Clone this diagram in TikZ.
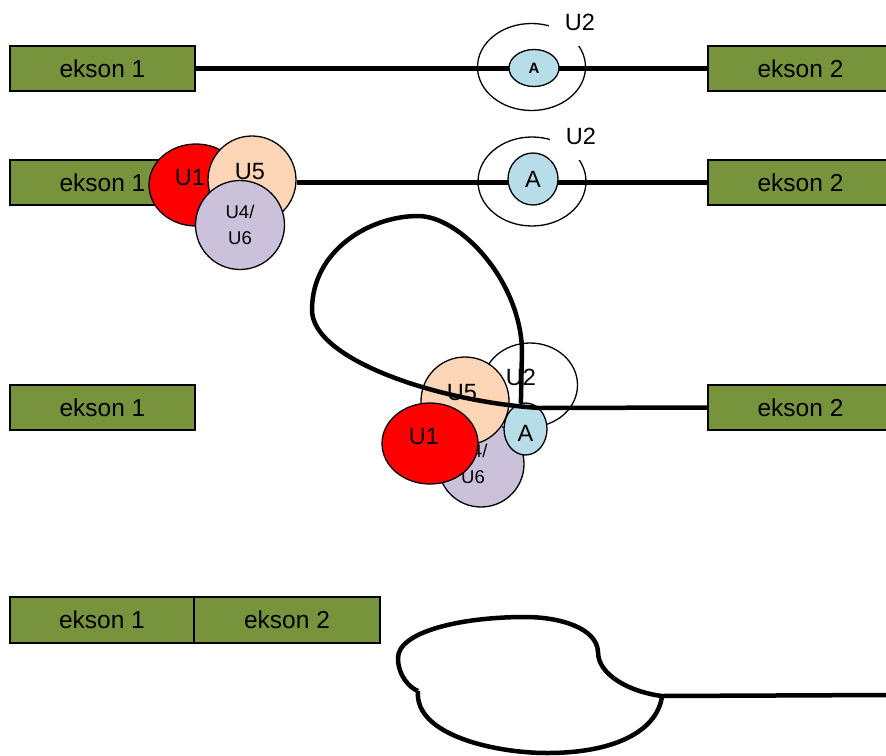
\documentclass[tikz,border=0pt]{standalone}
\usepackage{fontspec}
\setmainfont{Liberation Sans}
\usetikzlibrary{shapes.geometric}

\definecolor{eksgreen}{HTML}{77933C}
\definecolor{snred}{HTML}{FF0000}
\definecolor{snpeach}{HTML}{FBD5B5}
\definecolor{snlilac}{HTML}{CCC1DA}
\definecolor{snblue}{HTML}{B7DDE8}

\begin{document}
\begin{tikzpicture}[x=1pt,y=-1pt,
  ekson/.style={draw=black,fill=eksgreen,line width=1.6pt,minimum width=185pt,minimum height=45pt,inner sep=0pt,font=\fontsize{24.5}{28}\selectfont},
  blob/.style={ellipse,draw=black,line width=1.3pt,inner sep=0pt,font=\fontsize{23.5}{26}\selectfont},
  txt/.style={inner sep=0pt,font=\fontsize{23.5}{26}\selectfont},
  small/.style={inner sep=0pt,align=center,font=\fontsize{18.5}{26}\selectfont},
  tag/.style={fill=white,inner sep=0pt,minimum width=62pt,minimum height=48pt,font=\fontsize{23.5}{26}\selectfont},
  strand/.style={line width=4.5pt,line join=round}]

\useasboundingbox (0,0) rectangle (886,755);

\node[ekson] (ek1a) at (102.5,68.5) {ekson 1};
\node[ekson] (ek2a) at (800.5,68.5) {ekson 2};
\draw[strand] (ek1a) -- (ek2a);
\node[blob,minimum width=108pt,minimum height=87pt] (u2a) at (531.5,67) {};
\node[blob,fill=snblue,minimum width=50pt,minimum height=37pt,font=\fontsize{15}{16}\selectfont\bfseries] (aa) at (534,68) {A};
\node[tag] (u2a-tag) at (580,22) {U2};

\node[ekson] (ek1b) at (102.5,182.5) {ekson 1};
\node[ekson] (ek2b) at (800.5,182.5) {ekson 2};
\node[blob,minimum width=108pt,minimum height=89pt] (u2b) at (532,181.5) {};
\node[blob,fill=snred,minimum width=94pt,minimum height=82pt,
  label={[txt,xshift=-6pt,yshift=7pt]center:U1}] (u1b) at (196,185) {};
\node[blob,fill=snpeach,minimum size=88pt,
  label={[txt,xshift=-2pt,yshift=8pt]center:U5}] (u5b) at (252,180) {};
\node[blob,fill=snlilac,minimum size=89pt,font=\fontsize{18.5}{26}\selectfont,align=center] (u46b) at (240,225) {U4/\\U6};
\draw[strand] (ek2b.west) -- (ek2b.west -| u5b.east);
\node[blob,fill=snblue,minimum width=50pt,minimum height=52pt] (ab) at (533,179) {A};
\node[tag] (u2b-tag) at (581,136) {U2};

\node[ekson] (ek1c) at (102.5,407.5) {ekson 1};
\node[ekson] (ek2c) at (800.5,407.5) {ekson 2};
\node[blob,fill=white,minimum width=95pt,minimum height=84pt,
  label={[txt,xshift=-9pt,yshift=8pt]center:U2}] (u2c) at (530,385) {};
\node[blob,fill=snlilac,minimum size=86pt,
  label={[small,xshift=-8pt]center:U4/\\U6}] (u46c) at (481,464) {};
\node[blob,fill=snpeach,minimum size=88pt,
  label={[txt,xshift=-3pt,yshift=8pt]center:U5}] (u5c) at (465,401) {};
\node[blob,fill=snblue,minimum width=43pt,minimum height=52pt,
  label={[txt,yshift=-4pt]center:A}] (ac) at (525.5,429) {};
\draw[strand] (ek2c.west) -- (540,408) .. controls (440,402) and (312,360) .. (312,310)
  .. controls (312,250) and (370,216) .. (418,216)
  .. controls (460,216) and (520,280) .. (522,350) -- (ac.100);
\node[blob,fill=snred,minimum width=96pt,minimum height=81pt,
  label={[txt,xshift=-6pt,yshift=7pt]center:U1}] (u1c) at (430,443.5) {};

\node[ekson,minimum width=184pt,minimum height=46pt] (ek1d) at (102,620) {ekson 1};
\node[ekson,minimum width=186pt,minimum height=46pt] (ek2d) at (287,620) {ekson 2};
\coordinate (tail) at (886,695);
\coordinate (knot) at (662,696);
\coordinate (nick) at (418,691);
\draw[strand] (tail) -- (knot) .. controls (630,692) and (598,675) .. (598,652)
  .. controls (597,628) and (560,617) .. (525,617)
  .. controls (460,617) and (398,632) .. (398,658)
  .. controls (398,676) and (410,688) .. (nick);
\draw[strand] (nick) .. controls (414,735) and (495,753) .. (547,753)
  .. controls (620,753) and (658,728) .. (knot);

\end{tikzpicture}
\end{document}
